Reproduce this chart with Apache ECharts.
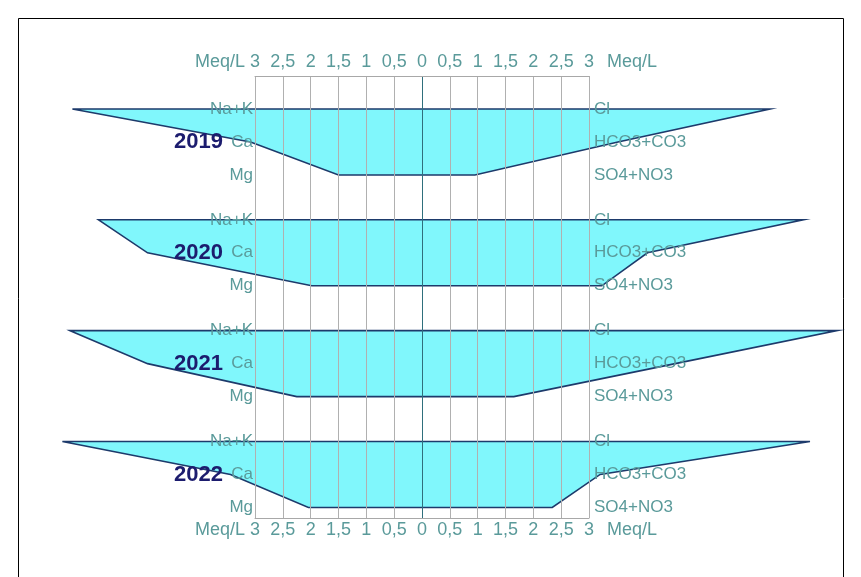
<!DOCTYPE html>
<html>
<head>
<meta charset="utf-8">
<script src="https://cdn.jsdelivr.net/npm/echarts@6/dist/echarts.min.js"></script>
<style>
  html, body { margin: 0; padding: 0; background: #ffffff; }
  #chart { width: 861px; height: 577px; }
</style>
</head>
<body>
<div id="chart"></div>
<script>
// Stiff diagram: cations to the left, anions to the right (meq/L)
const years = ['2019', '2020', '2021', '2022'];
const cationNames = ['Na+K', 'Ca', 'Mg'];
const anionNames = ['Cl', 'HCO3+CO3', 'SO4+NO3'];

const naK  = [6.28, 5.81, 6.32, 6.46];
const ca   = [3.08, 4.93, 4.93, 3.44];
const mg   = [1.50, 1.98, 2.25, 2.04];
const cl   = [6.25, 6.85, 7.46, 6.97];
const hco3 = [3.52, 4.05, 4.55, 3.20];
const so4  = [0.95, 3.23, 1.65, 2.34];

const tickValues = [-3, -2.5, -2, -1.5, -1, -0.5, 0, 0.5, 1, 1.5, 2, 2.5, 3];
const unitLabel = 'Meq/L';

const PANEL_STEP = 3.36;   // vertical distance between stacked diagrams (row units)
const FONT = '"Liberation Sans", Arial, sans-serif';
const TEXT_COLOR = '#5a9a9a';

const fmtTick = v => String(Math.abs(v)).replace('.', ',');

const chart = echarts.init(document.getElementById('chart'), null, { renderer: 'canvas' });

const seriesData = years.map((y, i) => [naK[i], ca[i], mg[i], cl[i], hco3[i], so4[i], i]);

function renderStiff(params, api) {
  const k = api.value(6);
  const r = [0, 1, 2].map(j => 1 + k * PANEL_STEP + j);
  const cat = [api.value(0), api.value(1), api.value(2)];
  const an = [api.value(3), api.value(4), api.value(5)];
  const pts = [
    api.coord([-cat[0], r[0]]),
    api.coord([-cat[1], r[1]]),
    api.coord([-cat[2], r[2]]),
    api.coord([an[2], r[2]]),
    api.coord([an[1], r[1]]),
    api.coord([an[0], r[0]])
  ];
  const children = [{
    type: 'polygon',
    shape: { points: pts },
    style: { fill: '#80f7fc', stroke: '#1d3a6b', lineWidth: 1.6 }
  }];
  const xl = api.coord([-3, 0])[0];
  const xr = api.coord([3, 0])[0];
  r.forEach((ry, j) => {
    const y = api.coord([0, ry])[1];
    children.push({
      type: 'text',
      z2: 5,
      style: { text: cationNames[j], x: xl - 2, y: y, align: 'right', verticalAlign: 'middle',
               fill: TEXT_COLOR, font: '17px ' + FONT }
    });
    children.push({
      type: 'text',
      z2: 5,
      style: { text: anionNames[j], x: xr + 5, y: y, align: 'left', verticalAlign: 'middle',
               fill: TEXT_COLOR, font: '17px ' + FONT }
    });
  });
  const yYear = api.coord([0, r[1]])[1];
  children.push({
    type: 'text',
    z2: 6,
    style: { text: years[k], x: xl - 32, y: yYear, align: 'right', verticalAlign: 'middle',
             fill: '#1c1c6e', font: 'bold 22px ' + FONT }
  });
  return { type: 'group', children: children };
}

const axisCommon = {
  type: 'value',
  min: -3,
  max: 3,
  interval: 0.5,
  z: 3,
  axisLine: { show: true, lineStyle: { color: '#a8a8a8', width: 1 } },
  axisTick: { show: false },
  splitLine: {
    show: true,
    lineStyle: {
      width: 1,
      color: tickValues.map(v => (v === 0 ? '#2f6f7c' : '#b0b0b0'))
    }
  },
  axisLabel: {
    color: TEXT_COLOR,
    fontFamily: FONT,
    fontSize: 18,
    formatter: fmtTick
  }
};

chart.setOption({
  animation: false,
  backgroundColor: '#ffffff',
  grid: { left: 255, right: 272, top: 76, bottom: 59 },
  xAxis: [
    Object.assign({}, axisCommon, { position: 'top', axisLabel: Object.assign({}, axisCommon.axisLabel, { margin: 5 }) }),
    Object.assign({}, axisCommon, { position: 'bottom', splitLine: { show: false }, axisLabel: Object.assign({}, axisCommon.axisLabel, { margin: 3 }) })
  ],
  yAxis: {
    type: 'value',
    inverse: true,
    min: 0,
    max: 13.4,
    show: false
  },
  series: [{
    type: 'custom',
    clip: false,
    renderItem: renderStiff,
    data: seriesData,
    z: 2
  }]
});

// Unit captions beside the scale labels, plus the outer frame
const xLeft = chart.convertToPixel({ xAxisIndex: 0 }, -3);
const xRight = chart.convertToPixel({ xAxisIndex: 0 }, 3);
const yTop = chart.convertToPixel({ yAxisIndex: 0 }, 0);
const yBottom = chart.convertToPixel({ yAxisIndex: 0 }, 13.4);
const unitStyle = (x, y, align) => ({
  type: 'text',
  style: { text: unitLabel, x: x, y: y, align: align, verticalAlign: 'middle',
           fill: TEXT_COLOR, font: '18px ' + FONT }
});
chart.setOption({
  graphic: [
    { type: 'rect', shape: { x: 18.5, y: 18.5, width: 825, height: 600 },
      style: { fill: 'none', stroke: '#000000', lineWidth: 1 }, silent: true },
    unitStyle(xLeft - 10, yTop - 14, 'right'),
    unitStyle(xRight + 18, yTop - 14, 'left'),
    unitStyle(xLeft - 10, yBottom + 12, 'right'),
    unitStyle(xRight + 18, yBottom + 12, 'left')
  ]
});
</script>
</body>
</html>
